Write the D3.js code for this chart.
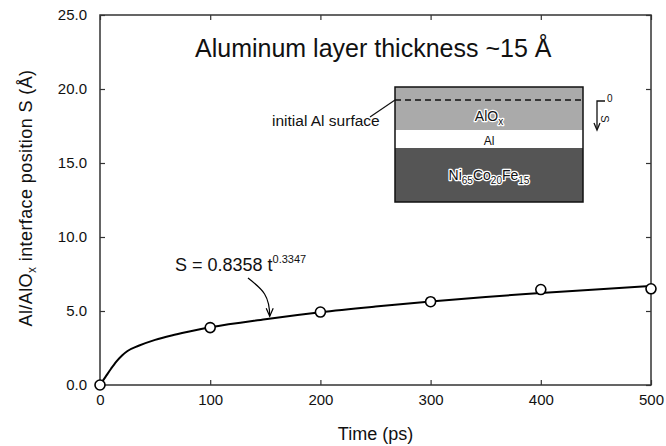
<!DOCTYPE html>
<html>
<head>
<meta charset="utf-8">
<script src="https://cdn.jsdelivr.net/npm/d3@7/dist/d3.min.js"></script>
<style>
  body { margin: 0; background: #fff; }
  svg { display: block; font-family: "Liberation Sans", Arial, Helvetica, sans-serif; }
</style>
</head>
<body>
<svg id="chart" width="666" height="446"></svg>
<script>
// ---- data ----
const timeTicks = [0, 100, 200, 300, 400, 500];
const sTicks = [0, 5, 10, 15, 20, 25];
// measured points (time ps, S Å)
const measTime = [0, 100, 200, 300, 400, 500];
const measS = [0, 3.88, 4.93, 5.63, 6.45, 6.5];
// fitted curve
const fitTime = [0, 5, 10, 15, 20, 25, 35, 50, 65, 80, 100, 150, 200, 250, 300, 350, 400, 450, 500];
const fitS = [0, 0.55, 1.1, 1.6, 2.0, 2.3, 2.65, 3.05, 3.35, 3.6, 3.9, 4.45, 4.92, 5.3, 5.64, 5.95, 6.21, 6.46, 6.69];
const titleText = "Aluminum layer thickness ~15 Å";
const xTitle = "Time (ps)";

// ---- layout ----
const W = 666, H = 446;
const m = { left: 100, top: 15, right: 15, bottom: 61 };
const iw = W - m.left - m.right, ih = H - m.top - m.bottom;

const svg = d3.select("#chart");
const g = svg.append("g").attr("transform", `translate(${m.left},${m.top})`);

const x = d3.scaleLinear().domain([0, 500]).range([0, iw]);
const y = d3.scaleLinear().domain([0, 25]).range([ih, 0]);

const frameColor = "#333";
const fs = 15;

// frame
g.append("rect").attr("x", 0).attr("y", 0).attr("width", iw).attr("height", ih)
  .attr("fill", "none").attr("stroke", frameColor).attr("stroke-width", 1.5);

// axes
const xAxis = g.append("g").attr("transform", `translate(0,${ih})`)
  .call(d3.axisBottom(x).tickValues(timeTicks).tickFormat(d3.format("d")).tickSize(-5).tickPadding(9));
const xTop = g.append("g")
  .call(d3.axisTop(x).tickValues(timeTicks).tickFormat("").tickSize(-5));
const yAxis = g.append("g")
  .call(d3.axisLeft(y).tickValues(sTicks).tickFormat(d3.format(".1f")).tickSize(-5).tickPadding(13));
const yRight = g.append("g").attr("transform", `translate(${iw},0)`)
  .call(d3.axisRight(y).tickValues(sTicks).tickFormat("").tickSize(-5));
[xAxis, xTop, yAxis, yRight].forEach(a => {
  a.select(".domain").remove();
  a.selectAll("line").attr("stroke", frameColor).attr("stroke-width", 1.2);
  a.selectAll("text").attr("font-size", fs).attr("fill", "#111")
    .attr("font-family", "Liberation Sans, Arial, sans-serif");
});

// fit curve
const fitData = fitTime.map((t, i) => [t, fitS[i]]);
g.append("path").datum(fitData)
  .attr("fill", "none").attr("stroke", "#000").attr("stroke-width", 2)
  .attr("d", d3.line().x(d => x(d[0])).y(d => y(d[1])).curve(d3.curveMonotoneX));

// measured points
const meas = measTime.map((t, i) => [t, measS[i]]);
g.selectAll("circle.pt").data(meas).join("circle").attr("class", "pt")
  .attr("cx", d => x(d[0])).attr("cy", d => y(d[1])).attr("r", 5)
  .attr("fill", "#fff").attr("stroke", "#000").attr("stroke-width", 1.6);

// title
g.append("text").attr("x", 95).attr("y", 42)
  .attr("font-size", 25).attr("fill", "#111").text(titleText);

// axis titles
svg.append("text").attr("x", m.left + x(250)).attr("y", 440).attr("text-anchor", "middle")
  .attr("font-size", 18).attr("fill", "#111").text(xTitle);
const yt = svg.append("text").attr("transform", `translate(32,${m.top + ih / 2 - 2}) rotate(-90)`)
  .attr("text-anchor", "middle").attr("font-size", 18).attr("letter-spacing", 0.4).attr("fill", "#111");
yt.append("tspan").text("Al/AlO");
yt.append("tspan").attr("font-size", 12).attr("dy", 4).text("x");
yt.append("tspan").attr("dy", -4).text(" interface position S  (Å)");

// fit label
const fl = g.append("text").attr("x", 75).attr("y", 256).attr("font-size", 18).attr("fill", "#111");
fl.append("tspan").text("S = 0.8358 t");
fl.append("tspan").attr("font-size", 11).attr("dy", -8).text("0.3347");
// curved arrow
const ax0 = 148, ay0 = 263, ax1 = x(154), ay1 = y(4.44) - 3;
g.append("path")
  .attr("d", `M${ax0},${ay0} C${ax0 + 12},${ay0 + 10} ${ax1},${ay0 + 15} ${ax1},${ay1}`)
  .attr("fill", "none").attr("stroke", "#000").attr("stroke-width", 1.2);
g.append("path")
  .attr("d", `M${ax1 - 3.5},${ay1 - 8} L${ax1},${ay1} L${ax1 + 3.5},${ay1 - 8}`)
  .attr("fill", "none").attr("stroke", "#000").attr("stroke-width", 1.2);

// ---- inset layer diagram ----
const bx = 295, bw = 188;
const bTop = 72, dashY = 85, alTop = 115, niTop = 133, bBot = 187;
const inset = g.append("g");
inset.append("rect").attr("x", bx).attr("y", bTop).attr("width", bw).attr("height", alTop - bTop).attr("fill", "#aaaaaa");
inset.append("rect").attr("x", bx).attr("y", alTop).attr("width", bw).attr("height", niTop - alTop).attr("fill", "#fff");
inset.append("rect").attr("x", bx).attr("y", niTop).attr("width", bw).attr("height", bBot - niTop).attr("fill", "#555555");
inset.append("rect").attr("x", bx).attr("y", bTop).attr("width", bw).attr("height", bBot - bTop)
  .attr("fill", "none").attr("stroke", "#111").attr("stroke-width", 1.5);
inset.append("line").attr("x1", bx).attr("x2", bx + bw).attr("y1", dashY).attr("y2", dashY)
  .attr("stroke", "#111").attr("stroke-width", 1.4).attr("stroke-dasharray", "6,4");

function halo(sel) {
  sel.attr("stroke", "#fff").attr("stroke-width", 2.5).attr("paint-order", "stroke")
    .attr("stroke-linejoin", "round").attr("fill", "#111");
  return sel;
}
const cx = bx + bw / 2;
const t1 = halo(inset.append("text").attr("x", cx).attr("y", 106).attr("text-anchor", "middle").attr("font-size", 14));
t1.append("tspan").text("AlO");
t1.append("tspan").attr("font-size", 10).attr("dy", 4).text("x");
inset.append("text").attr("x", cx).attr("y", 130).attr("text-anchor", "middle").attr("font-size", 12)
  .attr("fill", "#111").text("Al");
const t3 = halo(inset.append("text").attr("x", cx).attr("y", 165).attr("text-anchor", "middle").attr("font-size", 14));
t3.append("tspan").text("Ni");
t3.append("tspan").attr("font-size", 10).attr("dy", 4).text("65");
t3.append("tspan").attr("dy", -4).text("Co");
t3.append("tspan").attr("font-size", 10).attr("dy", 4).text("20");
t3.append("tspan").attr("dy", -4).text("Fe");
t3.append("tspan").attr("font-size", 10).attr("dy", 4).text("15");

// initial Al surface label
g.append("text").attr("x", 172).attr("y", 111).attr("font-size", 15.5).attr("fill", "#111").text("initial Al surface");
g.append("line").attr("x1", 270).attr("y1", 102).attr("x2", bx).attr("y2", dashY)
  .attr("stroke", "#111").attr("stroke-width", 1.2);

// S direction glyph
const sx = 497, sy = 86;
g.append("path").attr("d", `M${sx + 8},${sy} L${sx},${sy} L${sx},${sy + 28}`)
  .attr("fill", "none").attr("stroke", "#111").attr("stroke-width", 1.3);
g.append("path").attr("d", `M${sx - 3},${sy + 22} L${sx},${sy + 29} L${sx + 3},${sy + 22}`)
  .attr("fill", "none").attr("stroke", "#111").attr("stroke-width", 1.3);
g.append("text").attr("x", sx + 10).attr("y", sy + 1).attr("font-size", 10).attr("fill", "#111").text("0");
g.append("text").attr("transform", `translate(${sx + 4},${sy + 18}) rotate(90)`)
  .attr("text-anchor", "middle").attr("font-size", 11).attr("fill", "#111").text("S");
</script>
</body>
</html>
